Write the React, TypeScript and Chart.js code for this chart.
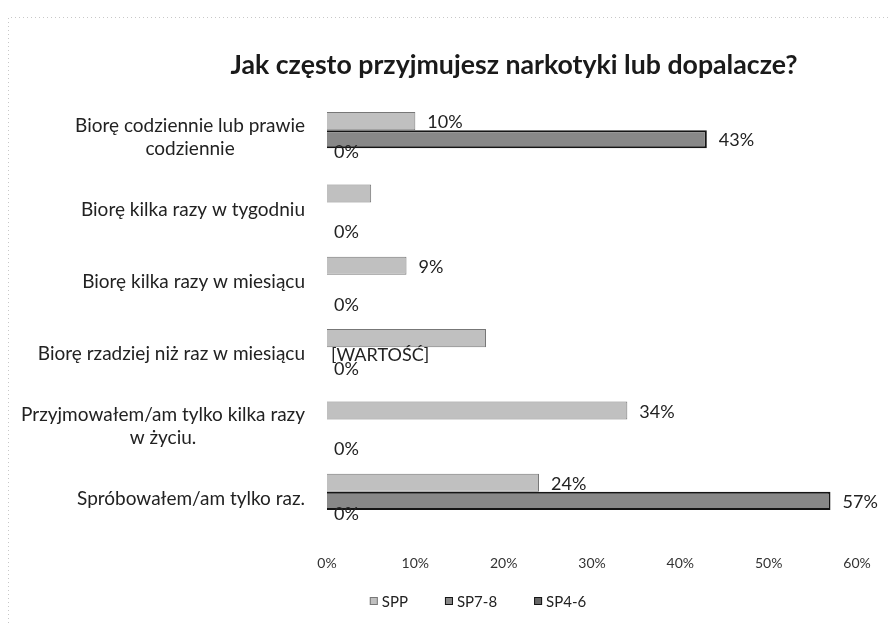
import React, { useEffect, useRef } from "react";
import { Chart, registerables } from "chart.js";

Chart.register(...registerables);

const chartTitle = "Jak często przyjmujesz narkotyki lub dopalacze?";
const categories: string[][] = [
  ["Biorę codziennie lub prawie", "codziennie"],
  ["Biorę kilka razy w tygodniu"],
  ["Biorę kilka razy w miesiącu"],
  ["Biorę rzadziej niż raz w miesiącu"],
  ["Przyjmowałem/am tylko kilka razy", "w życiu."],
  ["Spróbowałem/am tylko raz."],
];
const seriesNames = ["SPP", "SP7-8", "SP4-6"];
const sppValues = [10, 5, 9, 18, 34, 24];
const sp78Values = [43, 0, 0, 0, 0, 57];
const sp46Values = [0, 0, 0, 0, 0, 0];
const sppLabels = ["10%", "", "9%", "", "34%", "24%"];
const sp78Labels = ["43%", "", "", "[WARTOŚĆ]", "", "57%"];
const sp46Labels = ["0%", "0%", "0%", "0%", "0%", "0%"];
const xMin = 0;
const xMax = 60;
const xStep = 10;

const FONT = "Lato, 'Open Sans', sans-serif";

export default function App() {
  const ref = useRef<HTMLCanvasElement | null>(null);

  useEffect(() => {
    document.body.style.margin = "0";
    const canvas = ref.current;
    if (!canvas) return;
    const labelSets = [sppLabels, sp78Labels, sp46Labels];

    const framePlugin = {
      id: "frameAndTitle",
      beforeDraw(chart: any) {
        const ctx = chart.ctx;
        ctx.save();
        ctx.fillStyle = "#ffffff";
        ctx.fillRect(0, 0, chart.width, chart.height);
        ctx.strokeStyle = "#c8c8c8";
        ctx.lineWidth = 1;
        ctx.setLineDash([1, 3]);
        ctx.beginPath();
        ctx.moveTo(8.5, chart.height);
        ctx.lineTo(8.5, 17.5);
        ctx.lineTo(chart.width, 17.5);
        ctx.stroke();
        ctx.setLineDash([]);
        ctx.fillStyle = "#1a1a1a";
        ctx.font = `bold 26.7px ${FONT}`;
        ctx.textAlign = "center";
        ctx.textBaseline = "middle";
        ctx.fillText(chartTitle, 514, 65);
        ctx.restore();
      },
    };

    const yLabelPlugin = {
      id: "yLabels",
      afterDraw(chart: any) {
        const ctx = chart.ctx;
        const yScale = chart.scales.y;
        ctx.save();
        ctx.font = `19px ${FONT}`;
        ctx.fillStyle = "#222";
        ctx.textAlign = "center";
        ctx.textBaseline = "middle";
        const right = 305;
        const lh = 23;
        categories.forEach((lines, i) => {
          const cy = yScale.getPixelForValue(i) - 2;
          const widest = Math.max(...lines.map((l) => ctx.measureText(l).width));
          const cx = right - widest / 2;
          lines.forEach((l, j) => {
            ctx.fillText(l, cx, cy - ((lines.length - 1) * lh) / 2 + j * lh);
          });
        });
        ctx.restore();
      },
    };

    const valueLabelPlugin = {
      id: "valueLabels",
      afterDatasetsDraw(chart: any) {
        const ctx = chart.ctx;
        ctx.save();
        ctx.font = `18px ${FONT}`;
        ctx.fillStyle = "#222";
        ctx.textAlign = "left";
        ctx.textBaseline = "middle";
        chart.data.datasets.forEach((ds: any, d: number) => {
          const meta = chart.getDatasetMeta(d);
          meta.data.forEach((el: any, i: number) => {
            const txt = labelSets[d][i];
            if (!txt) return;
            const v = ds.data[i];
            let x = el.x + 12;
            let y = el.y + 1.5;
            if (d === 1 && v === 0) {
              x = el.x + 4;
              y = el.y - 1;
            }
            if (d === 2) {
              x = el.x + 7;
              y = labelSets[1][i] ? el.y - 5 : el.y + 3;
            }
            ctx.fillText(txt, x, y);
          });
        });
        ctx.restore();
      },
    };

    const legendPlugin = {
      id: "bottomLegend",
      afterDraw(chart: any) {
        const ctx = chart.ctx;
        ctx.save();
        ctx.font = `15px ${FONT}`;
        ctx.textBaseline = "middle";
        ctx.textAlign = "left";
        const box = 8;
        const gap = 4;
        const spacing = 37;
        const items = chart.data.datasets.map((ds: any) => ({
          text: ds.label,
          fill: ds.backgroundColor,
          stroke: ds.borderColor,
          w: box + gap + ctx.measureText(ds.label).width,
        }));
        const total =
          items.reduce((s: number, it: any) => s + it.w, 0) + spacing * (items.length - 1);
        let x = 478 - total / 2;
        const cy = 601;
        items.forEach((it: any) => {
          ctx.fillStyle = it.fill;
          ctx.fillRect(x, cy - box / 2, box, box);
          ctx.strokeStyle = it.stroke;
          ctx.lineWidth = 1;
          ctx.strokeRect(x + 0.5, cy - box / 2 + 0.5, box - 1, box - 1);
          ctx.fillStyle = "#222";
          ctx.fillText(it.text, x + box + gap, cy + 1);
          x += it.w + spacing;
        });
        ctx.restore();
      },
    };

    const chart = new Chart(canvas, {
      type: "bar",
      data: {
        labels: categories,
        datasets: [
          {
            label: seriesNames[0],
            data: sppValues,
            backgroundColor: "#c0c0c0",
            borderColor: "#777777",
            borderWidth: 1,
            categoryPercentage: 0.75,
            barPercentage: 1,
          },
          {
            label: seriesNames[1],
            data: sp78Values,
            backgroundColor: "#888888",
            borderColor: "#151515",
            borderWidth: 2,
            categoryPercentage: 0.75,
            barPercentage: 1,
          },
          {
            label: seriesNames[2],
            data: sp46Values,
            backgroundColor: "#666666",
            borderColor: "#151515",
            borderWidth: 1,
            categoryPercentage: 0.75,
            barPercentage: 1,
          },
        ],
      },
      options: {
        indexAxis: "y",
        animation: false,
        responsive: false,
        maintainAspectRatio: false,
        layout: { padding: { left: 105, right: 32, top: 103, bottom: 46 } },
        scales: {
          x: {
            min: xMin,
            max: xMax,
            grid: { display: false, drawTicks: false },
            border: { display: false },
            ticks: {
              stepSize: xStep,
              padding: 18,
              color: "#333",
              font: { family: FONT, size: 14 },
              callback: (v: any) => `${v}%`,
            },
            afterFit: (s: any) => {
              s.height = 40;
            },
          },
          y: {
            grid: { display: false, drawTicks: false },
            border: { display: false },
            ticks: { display: false },
            afterFit: (s: any) => {
              s.width = 222;
            },
          },
        },
        plugins: {
          legend: { display: false },
          title: { display: false },
          tooltip: { enabled: false },
        },
      } as any,
      plugins: [framePlugin, yLabelPlugin, valueLabelPlugin, legendPlugin],
    });
    return () => chart.destroy();
  }, []);

  return (
    <canvas
      ref={ref}
      width={889}
      height={623}
      style={{ display: "block", width: 889, height: 623 }}
    />
  );
}
